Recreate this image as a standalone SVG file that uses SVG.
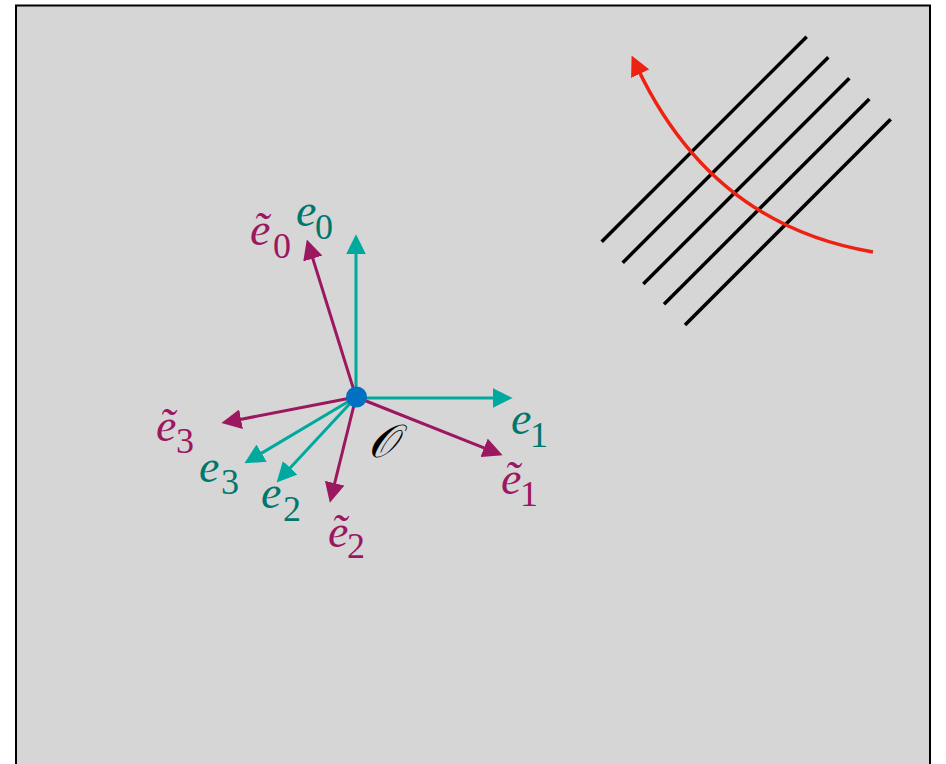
<svg xmlns="http://www.w3.org/2000/svg" width="946" height="764" viewBox="0 0 946 764">
<defs>
<marker id="ac" markerUnits="userSpaceOnUse" markerWidth="20" markerHeight="20" viewBox="0 0 19 19" refX="7" refY="9.5" orient="auto"><path d="M0,0 L19,9.5 L0,19 z" fill="#00a99d"/></marker>
<marker id="am" markerUnits="userSpaceOnUse" markerWidth="20" markerHeight="20" viewBox="0 0 19 19" refX="7" refY="9.5" orient="auto"><path d="M0,0 L19,9.5 L0,19 z" fill="#9b1760"/></marker>
<marker id="ar" markerUnits="userSpaceOnUse" markerWidth="20" markerHeight="20" viewBox="0 0 19 19" refX="7" refY="9.5" orient="auto"><path d="M0,0 L19,9.5 L0,19 z" fill="#ee2212"/></marker>
</defs>
<rect x="0" y="0" width="946" height="764" fill="#fff"/>
<rect id="frame" x="16" y="5.5" width="914" height="800" fill="#d6d6d6" stroke="#000" stroke-width="2"/>
<g id="wavefronts" stroke="#000" stroke-width="3.5" fill="none">
<line x1="601.7" y1="241.7" x2="806.7" y2="36.7"/>
<line x1="622.7" y1="262.7" x2="828.3" y2="57.3"/>
<line x1="643.3" y1="284" x2="849.3" y2="78.3"/>
<line x1="664" y1="304.3" x2="869.3" y2="99"/>
<line x1="685" y1="325" x2="890.7" y2="119.3"/>
</g>
<g id="connectors" fill="none" stroke-width="3">
<path d="M873,252 Q711.5,225 637,67" stroke="#ee2212" stroke-width="3.5" marker-end="url(#ar)"/>
<g stroke="#00a99d">
<line x1="356" y1="397" x2="356" y2="247" marker-end="url(#ac)"/>
<line x1="356" y1="398" x2="500" y2="398" marker-end="url(#ac)"/>
<line x1="356" y1="397" x2="255.3" y2="456.9" marker-end="url(#ac)"/>
<line x1="356" y1="397" x2="285.2" y2="473.2" marker-end="url(#ac)"/>
</g>
<g stroke="#9b1760">
<line x1="356" y1="397" x2="310.6" y2="251.5" marker-end="url(#am)"/>
<line x1="356" y1="397" x2="490.9" y2="450.6" marker-end="url(#am)"/>
<line x1="356" y1="397" x2="332.9" y2="490.4" marker-end="url(#am)"/>
<line x1="356" y1="397" x2="233.8" y2="420.7" marker-end="url(#am)"/>
</g>
</g>
<g id="origin">
<circle cx="356.5" cy="397" r="10.5" fill="#0070c0"/>
<text x="368" y="457" fill="#000" font-family="Liberation Serif, serif" font-style="italic" font-size="46">𝒪</text>
</g>
<g font-family="Liberation Serif, serif" font-size="46">
<g id="label-e0" fill="#00776d"><text x="296" y="226" font-style="italic">e</text><text x="315" y="239" font-size="36">0</text></g>
<g id="label-et0" fill="#9b1760"><text x="250" y="245" font-style="italic">ẽ</text><text x="273" y="258" font-size="36">0</text></g>
<g id="label-e1" fill="#00776d"><text x="511" y="434" font-style="italic">e</text><text x="530" y="447" font-size="36">1</text></g>
<g id="label-et1" fill="#9b1760"><text x="501" y="494" font-style="italic">ẽ</text><text x="520" y="506" font-size="36">1</text></g>
<g id="label-e2" fill="#00776d"><text x="261" y="508" font-style="italic">e</text><text x="283" y="521" font-size="36">2</text></g>
<g id="label-et2" fill="#9b1760"><text x="328" y="547" font-style="italic">ẽ</text><text x="347" y="558" font-size="36">2</text></g>
<g id="label-e3" fill="#00776d"><text x="199" y="482" font-style="italic">e</text><text x="221" y="494" font-size="36">3</text></g>
<g id="label-et3" fill="#9b1760"><text x="156" y="441" font-style="italic">ẽ</text><text x="176" y="453" font-size="36">3</text></g>
</g>
</svg>
